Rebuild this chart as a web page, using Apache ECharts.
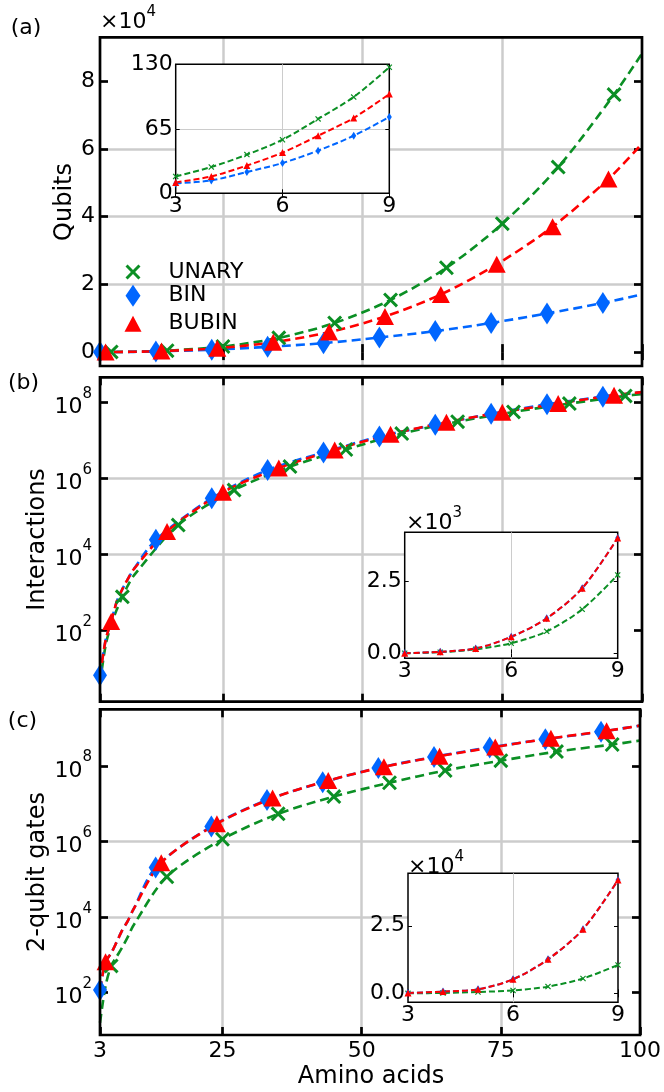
<!DOCTYPE html>
<html><head><meta charset="utf-8">
<script src="https://cdn.jsdelivr.net/npm/echarts@6/dist/echarts.min.js"></script>
<style>html,body{margin:0;padding:0;background:#fff}#c{width:664px;height:1092px}</style>
</head><body><div id="c"></div>
<script>
// ---------------- data ----------------
const xTicks = [3, 25, 50, 75, 100];
const lineEndX = 100;
const xBIN = [3, 13, 23, 33, 43, 53, 63, 73, 83, 93];
const xBUBIN = [4, 14, 24, 34, 44, 54, 64, 74, 84, 94];
const xUNARY = [5, 15, 25, 35, 45, 55, 65, 75, 85, 95];
const xBUBIN_b = [5, 15, 25, 35, 45, 55, 65, 75, 85, 95];
const xUNARY_b = [7, 17, 27, 37, 47, 57, 67, 77, 87, 97];
const smallN = [3, 4, 5, 6, 7, 8, 9];

// (a) Qubits
const qubitsTicks = [0, 20000, 40000, 60000, 80000];
const qubitsUNARY = [39, 430, 1650, 4200, 8600, 15400, 24900, 37900, 54600, 76000];
const qubitsBIN = [10, 210, 710, 1550, 2650, 4300, 6200, 8600, 11400, 14500];
const qubitsBUBIN = [17, 290, 1150, 2900, 5900, 10500, 17000, 25900, 37000, 51100];
const qubitsUNARYEnd = 88100;
const qubitsBINEnd = 17000;
const qubitsBUBINEnd = 61500;
const insetQubitsTicks = [0, 65, 130];
const insetQubitsUNARY = [17, 26.5, 39, 54, 75, 97, 127];
const insetQubitsBIN = [10, 13, 21.5, 30.5, 43, 58, 77];
const insetQubitsBUBIN = [11, 17, 28, 41, 58, 76, 100];

// (b) Interactions
const logTicks = [1e2, 1e4, 1e6, 1e8];
const interBIN = [6.6, 2.4e4, 3.0e5, 1.66e6, 4.8e6, 1.26e7, 2.57e7, 5.0e7, 8.9e7, 1.41e8];
const interBUBIN = [170, 4.0e4, 4.3e5, 1.86e6, 5.6e6, 1.45e7, 3.0e7, 5.5e7, 9.3e7, 1.55e8];
const interUNARY = [760, 5.9e4, 4.9e5, 2.04e6, 5.75e6, 1.51e7, 3.1e7, 5.6e7, 9.3e7, 1.48e8];
const interBINEnd = 1.86e8;
const interBUBINEnd = 1.86e8;
const interUNARYEnd = 1.66e8;
const insetInterTicks = [0, 2500];
const insetInterUNARY = [4, 40, 140, 350, 760, 1520, 2710];
const insetInterBIN = [6.6, 55, 170, 570, 1210, 2250, 3980];
const insetInterBUBIN = [6, 55, 170, 570, 1210, 2250, 3980];

// (c) 2-qubit gates
const gatesBIN = [118, 2.05e5, 2.5e6, 1.26e7, 3.7e7, 8.9e7, 1.74e8, 3.1e8, 5.1e8, 8.1e8];
const gatesBUBIN = [660, 2.75e5, 2.95e6, 1.41e7, 4.1e7, 9.5e7, 1.82e8, 3.2e8, 5.4e8, 8.5e8];
const gatesUNARY = [510, 1.17e5, 1.15e6, 5.4e6, 1.55e7, 3.6e7, 7.6e7, 1.38e8, 2.4e8, 3.7e8];
const gatesBINEnd = 1.17e9;
const gatesBUBINEnd = 1.17e9;
const gatesUNARYEnd = 4.7e8;
// main-panel curve at N = 3..9
const gatesSmallUNARY = [16, 150, 510, 900, 1600, 3000, 6000];
const gatesSmallBIN = [118, 660, 1100, 2200, 4500, 8000, 16000];
const gatesSmallBUBIN = [118, 660, 1100, 2200, 4500, 8000, 16000];
const insetGatesTicks = [0, 25000];
const insetGatesUNARY = [16, 150, 510, 1100, 2500, 5500, 10500];
const insetGatesBIN = [118, 650, 1500, 5200, 12600, 23700, 41900];
const insetGatesBUBIN = [118, 660, 1500, 5200, 12600, 23700, 41900];

// ---------------- style ----------------
const FONT = 'DejaVu Sans';
const GREEN = '#0b8f24', BLUE = '#0066ff', RED = '#ff0000';
const XPATH = 'path://M0,14L14,0L50,36L86,0L100,14L64,50L100,86L86,100L50,64L14,100L0,86L36,50Z';

const log10 = v => Math.log10(v);
// curve = values at N=3..9 + the markers beyond + right end
function lineData(xs, ys, end, isLog, small) {
  const pts = smallN.map((x, i) => [x, small[i]]);
  xs.forEach((x, i) => { if (x > smallN[smallN.length - 1]) pts.push([x, ys[i]]); });
  pts.push([lineEndX, end]);
  return isLog ? pts.map(p => [p[0], log10(p[1])]) : pts;
}
function pointData(xs, ys, isLog) {
  return xs.map((x, i) => [x, isLog ? log10(ys[i]) : ys[i]]);
}

const grids = [
  {left: 100, top: 37.3, width: 542, height: 328.7},
  {left: 100, top: 377.3, width: 542, height: 324.4},
  {left: 100, top: 709.3, width: 542, height: 325.7},
  {left: 175.7, top: 64.3, width: 213.6, height: 129},
  {left: 404.7, top: 532.3, width: 213, height: 126},
  {left: 408, top: 873.3, width: 210, height: 129}
].map((g, i) => Object.assign(g, i < 3 ?
  {show: true, borderColor: '#000', borderWidth: 2.7, backgroundColor: 'transparent', z: 5} :
  {show: true, borderColor: '#000', borderWidth: 1.5, backgroundColor: '#fff', z: 10}));

const xAxes = [], yAxes = [];
const labelBase = {color: '#000', fontFamily: FONT, fontSize: 22};
const supRich = {
  n: {fontFamily: FONT, fontSize: 22, color: '#000', lineHeight: 32, verticalAlign: 'bottom'},
  s: {fontFamily: FONT, fontSize: 15, color: '#000', lineHeight: 15, verticalAlign: 'top'}
};

function mainX(g, pos) {
  const bottom = pos === 'bottom';
  return {
    type: 'value', gridIndex: g, position: pos, min: 3, max: 100, z: 1,
    axisLine: {show: false},
    axisTick: {show: true, inside: true, length: 8, lineStyle: {color: '#000', width: 2.7}, customValues: xTicks},
    axisLabel: Object.assign({show: bottom && g === 2, customValues: xTicks, margin: 5}, labelBase),
    splitLine: {show: bottom, showMinLine: false, showMaxLine: false, lineStyle: {color: '#cccccc', width: 2.5}}
  };
}
function mainY(g, pos, min, max, ticks, fmt, rich) {
  const left = pos === 'left';
  return {
    type: 'value', gridIndex: g, position: pos, min: min, max: max, z: 1,
    axisLine: {show: false},
    axisTick: {show: true, inside: true, length: 8, lineStyle: {color: '#000', width: 2.7}, customValues: ticks},
    axisLabel: Object.assign({show: left, customValues: ticks, margin: rich ? 8 : 5, formatter: fmt, rich: rich}, labelBase),
    splitLine: {show: left, showMinLine: false, showMaxLine: false, lineStyle: {color: '#cccccc', width: 2.5}}
  };
}
function insetX(g, pos) {
  const bottom = pos === 'bottom';
  return {
    type: 'value', gridIndex: g, position: pos, min: 3, max: 9, interval: 3, z: 11,
    axisLine: {show: false},
    axisTick: {show: true, inside: true, length: 4, lineStyle: {color: '#000', width: 1}},
    axisLabel: Object.assign({show: bottom, margin: 2}, labelBase),
    splitLine: {show: bottom, showMinLine: false, showMaxLine: false, lineStyle: {color: '#cccccc', width: 1}}
  };
}
function insetY(g, pos, min, max, ticks, fmt) {
  const left = pos === 'left';
  return {
    type: 'value', gridIndex: g, position: pos, min: min, max: max, z: 11,
    axisLine: {show: false},
    axisTick: {show: true, inside: true, length: 4, lineStyle: {color: '#000', width: 1}, customValues: ticks},
    axisLabel: Object.assign({show: left, customValues: ticks, margin: 3, formatter: fmt}, labelBase),
    splitLine: {show: left, showMinLine: false, showMaxLine: false, lineStyle: {color: '#cccccc', width: 1}}
  };
}
const logFmt = v => '{n|10}{s|' + Math.round(v) + '}';
const logTickExps = logTicks.map(log10);

[0, 1, 2].forEach(g => { xAxes.push(mainX(g, 'bottom')); xAxes.push(mainX(g, 'top')); });
yAxes.push(mainY(0, 'left', -4100, 92900, qubitsTicks, v => String(v / 1e4)));
yAxes.push(mainY(0, 'right', -4100, 92900, qubitsTicks));
yAxes.push(mainY(1, 'left', 0.12, 8.66, logTickExps, logFmt, supRich));
yAxes.push(mainY(1, 'right', 0.12, 8.66, logTickExps));
yAxes.push(mainY(2, 'left', 0.88, 9.50, logTickExps, logFmt, supRich));
yAxes.push(mainY(2, 'right', 0.88, 9.50, logTickExps));
[3, 4, 5].forEach(g => { xAxes.push(insetX(g, 'bottom')); xAxes.push(insetX(g, 'top')); });
yAxes.push(insetY(3, 'left', 0, 130, insetQubitsTicks, v => String(v)));
yAxes.push(insetY(3, 'right', 0, 130, insetQubitsTicks));
yAxes.push(insetY(4, 'left', -170, 4180, insetInterTicks, v => (v / 1e3).toFixed(1)));
yAxes.push(insetY(4, 'right', -170, 4180, insetInterTicks));
yAxes.push(insetY(5, 'left', -3300, 44400, insetGatesTicks, v => (v / 1e4).toFixed(1)));
yAxes.push(insetY(5, 'right', -3300, 44400, insetGatesTicks));

const series = [];
const lines = [], marks = [];
function addMain(g, name, color, xs, ys, end, small, isLog, symbol, size) {
  lines.push({
    type: 'line', name: name + '-line', xAxisIndex: 2 * g, yAxisIndex: 2 * g, z: 2,
    data: lineData(xs, ys, end, isLog, small), showSymbol: false, symbol: 'none',
    smooth: 0.3,
    lineStyle: {color: color, width: 2.6, type: [9, 5]}
  });
  marks.push({
    type: 'scatter', name: name, xAxisIndex: 2 * g, yAxisIndex: 2 * g, z: 3,
    data: pointData(xs, ys, isLog), symbol: symbol, symbolSize: size,
    itemStyle: {color: color, opacity: 1}
  });
}
function addInset(g, name, color, ys, symbol, size) {
  series.push({
    type: 'line', name: name + '-inset', xAxisIndex: 2 * g, yAxisIndex: 2 * g, z: 12,
    data: pointData(smallN, ys, false), symbol: symbol, symbolSize: size, showSymbol: true,
    smooth: 0.3,
    itemStyle: {color: color}, lineStyle: {color: color, width: 2, type: [6, 3]}
  });
}
const SYM = {UNARY: [XPATH, 15], BIN: ['diamond', [14, 22]], BUBIN: ['triangle', [18, 17]]};
const SYMS = {UNARY: [XPATH, 6], BIN: ['diamond', [5, 8]], BUBIN: ['triangle', [7, 7]]};

addMain(0, 'UNARY', GREEN, xUNARY, qubitsUNARY, qubitsUNARYEnd, insetQubitsUNARY, false, ...SYM.UNARY);
addMain(0, 'BIN', BLUE, xBIN, qubitsBIN, qubitsBINEnd, insetQubitsBIN, false, ...SYM.BIN);
addMain(0, 'BUBIN', RED, xBUBIN, qubitsBUBIN, qubitsBUBINEnd, insetQubitsBUBIN, false, ...SYM.BUBIN);
addMain(1, 'UNARY', GREEN, xUNARY_b, interUNARY, interUNARYEnd, insetInterUNARY, true, ...SYM.UNARY);
addMain(1, 'BIN', BLUE, xBIN, interBIN, interBINEnd, insetInterBIN, true, ...SYM.BIN);
addMain(1, 'BUBIN', RED, xBUBIN_b, interBUBIN, interBUBINEnd, insetInterBUBIN, true, ...SYM.BUBIN);
addMain(2, 'UNARY', GREEN, xUNARY, gatesUNARY, gatesUNARYEnd, gatesSmallUNARY, true, ...SYM.UNARY);
addMain(2, 'BIN', BLUE, xBIN, gatesBIN, gatesBINEnd, gatesSmallBIN, true, ...SYM.BIN);
addMain(2, 'BUBIN', RED, xBUBIN, gatesBUBIN, gatesBUBINEnd, gatesSmallBUBIN, true, ...SYM.BUBIN);
series.push(...lines, ...marks);

addInset(3, 'UNARY', GREEN, insetQubitsUNARY, ...SYMS.UNARY);
addInset(3, 'BIN', BLUE, insetQubitsBIN, ...SYMS.BIN);
addInset(3, 'BUBIN', RED, insetQubitsBUBIN, ...SYMS.BUBIN);
addInset(4, 'UNARY', GREEN, insetInterUNARY, ...SYMS.UNARY);
addInset(4, 'BIN', BLUE, insetInterBIN, ...SYMS.BIN);
addInset(4, 'BUBIN', RED, insetInterBUBIN, ...SYMS.BUBIN);
addInset(5, 'UNARY', GREEN, insetGatesUNARY, ...SYMS.UNARY);
addInset(5, 'BIN', BLUE, insetGatesBIN, ...SYMS.BIN);
addInset(5, 'BUBIN', RED, insetGatesBUBIN, ...SYMS.BUBIN);

const legendText = {color: '#000', fontFamily: FONT, fontSize: 22};
const legends = [
  {data: [{name: 'UNARY', icon: XPATH}], left: 125.5, top: 261, itemWidth: 15, itemHeight: 15, pad: 23},
  {data: [{name: 'BIN', icon: 'diamond'}], left: 125.5, top: 284.7, itemWidth: 15, itemHeight: 22, pad: 23},
  {data: [{name: 'BUBIN', icon: 'triangle'}], left: 124.5, top: 312.7, itemWidth: 17, itemHeight: 16, pad: 22}
].map(l => ({
  data: l.data, left: l.left, top: l.top, itemWidth: l.itemWidth, itemHeight: l.itemHeight,
  orient: 'vertical', padding: 0, selectedMode: false, z: 20,
  textStyle: Object.assign({padding: [0, 0, 0, l.pad]}, legendText)
}));

function txt(text, x, y, size, rot) {
  return {type: 'text', x: x, y: y, rotation: rot || 0, z: 30,
    style: {text: text, fill: '#000', font: size + 'px "' + FONT + '"', align: 'center', verticalAlign: 'middle'}};
}
function sci(exp, x, y) {
  return {type: 'text', x: x, y: y, z: 30,
    style: {text: '{n|×10}{s|' + exp + '}', align: 'left', verticalAlign: 'middle',
      rich: {n: {fontFamily: FONT, fontSize: 22, fill: '#000', lineHeight: 28, verticalAlign: 'bottom'},
             s: {fontFamily: FONT, fontSize: 15, fill: '#000', lineHeight: 15, verticalAlign: 'top'}}}};
}
const graphics = [
  txt('(a)', 26, 28, 22), txt('(b)', 23.5, 383.5, 22), txt('(c)', 22.5, 721, 22),
  txt('Qubits', 65, 202, 24, Math.PI / 2),
  txt('Interactions', 38, 539.5, 24, Math.PI / 2),
  txt('2-qubit gates', 38, 872, 24, Math.PI / 2),
  txt('Amino acids', 371, 1077, 24),
  sci(4, 100, 19), sci(3, 406, 520), sci(4, 408, 864)
];

const chart = echarts.init(document.getElementById('c'), null, {renderer: 'canvas'});
chart.setOption({
  animation: false,
  backgroundColor: '#fff',
  grid: grids,
  xAxis: xAxes,
  yAxis: yAxes,
  legend: legends,
  series: series,
  graphic: graphics
});
</script></body></html>
